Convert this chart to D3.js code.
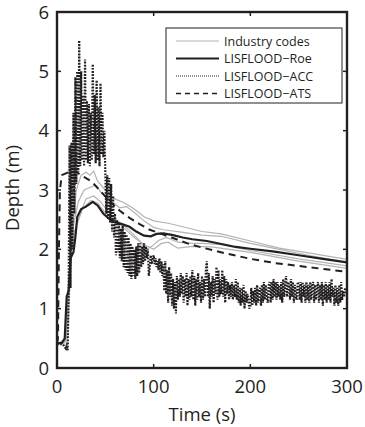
<!DOCTYPE html>
<html><head><meta charset="utf-8">
<script src="https://cdn.jsdelivr.net/npm/d3@7"></script>
<style>body{margin:0;background:#fff}svg{display:block}text{font-family:"Open Sans",sans-serif;fill:#231f20}</style>
</head><body><svg id="c" width="365" height="427"></svg>
<script>
// Industry codes (gray) [t, depth]
const industry1 = [[0,0.4],[8,0.42],[12,1.3],[16,2.3],[20,3.0],[25,3.25],[30,3.3],[34,3.25],[38,3.32],[42,3.15],[50,3.0],[60,2.85],[70,2.78],[80,2.68],[90,2.55],[100,2.48],[115,2.44],[130,2.38],[150,2.3],[170,2.26],[200,2.14],[230,2.02],[260,1.94],[300,1.83]];
const industry2 = [[0,0.4],[9,0.45],[13,1.6],[17,2.4],[22,2.8],[28,3.0],[35,3.05],[40,3.08],[46,2.95],[55,2.82],[65,2.7],[72,2.72],[80,2.62],[90,2.48],[100,2.37],[110,2.33],[125,2.3],[150,2.24],[170,2.22],[200,2.1],[230,2.0],[260,1.9],[300,1.78]];
const industry3 = [[0,0.4],[10,0.5],[14,1.9],[18,2.3],[24,2.6],[30,2.85],[38,2.9],[45,2.8],[55,2.6],[65,2.45],[75,2.32],[85,2.15],[93,2.0],[98,2.05],[105,2.15],[113,2.2],[125,2.12],[140,2.1],[150,2.1],[170,2.08],[200,1.98],[250,1.84],[300,1.72]];
const industry4 = [[0,0.4],[11,0.5],[15,2.0],[20,2.4],[27,2.7],[35,2.82],[42,2.78],[50,2.62],[60,2.5],[70,2.35],[80,2.2],[90,2.08],[100,2.0],[108,2.1],[115,2.12],[125,2.02],[140,2.05],[160,2.04],[200,1.95],[250,1.8],[300,1.68]];
// LISFLOOD-Roe
const roe = [[0,0.42],[5,0.42],[8,0.5],[10,1.2],[12,1.3],[14,1.85],[17,1.95],[19,2.2],[21,2.55],[25,2.68],[30,2.72],[37,2.8],[42,2.74],[48,2.6],[55,2.5],[62,2.45],[68,2.42],[75,2.38],[82,2.3],[90,2.23],[97,2.22],[103,2.26],[110,2.27],[120,2.24],[130,2.2],[140,2.17],[155,2.14],[170,2.09],[185,2.04],[200,2.01],[225,1.96],[250,1.9],[275,1.84],[300,1.78]];
// LISFLOOD-ATS
const ats = [[0,0.42],[1,0.5],[2,2.0],[3,3.0],[5,3.25],[12,3.3],[20,3.3],[30,3.2],[36,3.14],[44,3.0],[55,2.8],[65,2.65],[75,2.53],[85,2.43],[96,2.33],[108,2.26],[120,2.19],[135,2.1],[150,2.03],[175,1.93],[200,1.84],[225,1.77],[250,1.72],[275,1.67],[300,1.62]];
// LISFLOOD-ACC, sampled every 1 s from t = 0
const accStart = 0, accStep = 1;
const acc = [
0.40,0.40,0.40,0.40,0.40,0.40,0.40,0.38,0.35,0.33,
0.38,0.30,1.25,3.75,1.35,3.80,2.00,4.30,2.60,4.90,
3.10,5.00,3.30,5.52,3.40,5.00,3.50,4.60,3.40,5.20,
3.50,4.50,3.45,4.45,3.40,4.30,3.50,5.12,3.60,4.60,
3.45,4.85,3.50,4.40,3.40,4.80,3.60,4.30,3.55,4.00,
3.30,2.60,3.25,2.50,3.20,2.45,3.10,2.30,2.90,2.20,
2.60,1.90,2.50,1.95,2.45,1.85,2.35,1.80,2.40,1.70,
2.30,1.65,2.25,1.60,2.20,1.55,2.10,1.50,2.05,1.55,
2.00,1.50,2.05,1.55,2.10,1.60,2.10,1.70,2.05,1.75,
2.10,1.80,2.05,1.85,2.00,1.55,1.70,1.90,1.75,1.85,
1.90,1.75,1.85,1.70,1.80,1.65,1.85,1.60,1.80,1.55,
1.75,1.30,1.80,1.25,1.65,1.10,1.70,1.20,1.60,1.05,
1.50,1.00,1.45,0.92,1.55,1.15,1.50,1.20,1.60,1.25,
1.55,1.10,1.50,1.20,1.60,1.05,1.50,1.15,1.55,1.20,
1.65,1.15,1.55,1.05,1.50,1.15,1.60,1.20,1.45,1.10,
1.55,1.15,1.50,1.20,1.65,1.80,1.20,1.60,1.00,1.45,
1.20,1.55,1.10,1.50,1.25,1.70,1.15,1.65,1.20,1.50,
1.25,1.65,1.20,1.55,1.10,1.50,1.25,1.45,1.15,1.40,
1.20,1.45,1.15,1.40,1.20,1.50,1.15,1.45,1.10,1.35,
1.05,1.35,1.10,1.40,1.00,1.30,1.10,1.25,1.15,1.00,
1.05,1.35,1.05,1.30,1.10,1.35,1.05,1.40,1.10,1.30,
1.35,1.05,1.40,1.10,1.45,1.15,1.40,1.20,1.10,1.40,
1.45,1.10,1.45,1.15,1.50,1.20,1.45,1.15,1.45,1.20,
1.40,1.15,1.45,1.10,1.50,1.20,1.40,1.55,1.20,1.45,
1.40,1.15,1.50,1.20,1.45,1.10,1.40,1.20,1.15,1.45,
1.40,1.15,1.45,1.10,1.45,1.20,1.40,1.10,1.45,1.15,
1.40,1.10,1.45,1.15,1.40,1.45,1.10,1.40,1.15,1.35,
1.45,1.10,1.40,1.15,1.45,1.05,1.40,1.15,1.45,1.10,
1.40,1.15,1.45,1.10,1.50,1.20,1.35,1.05,1.40,1.10,
1.35,1.05,1.40,1.10,1.45,1.15,1.30,1.20,1.35,1.25,
1.30];
const xTicks = [0,100,200,300];
const yTicks = [0,1,2,3,4,5,6];
const legendLabels = ["Industry codes","LISFLOOD\u2212Roe","LISFLOOD\u2212ACC","LISFLOOD\u2212ATS"];

const svg = d3.select("#c");
const L=57, R=347, T=12, B=368;
const x = d3.scaleLinear().domain([0,300]).range([L,R]);
const y = d3.scaleLinear().domain([0,6]).range([B,T]);
const line = d3.line().x(d=>x(d[0])).y(d=>y(d[1]));

svg.append("clipPath").attr("id","pc").append("rect").attr("x",L).attr("y",T).attr("width",R-L).attr("height",B-T);
const g = svg.append("g").attr("clip-path","url(#pc)");

[industry1,industry2,industry3,industry4].forEach(s=>{
  g.append("path").attr("d",line(s)).attr("fill","none").attr("stroke","#b3b3b3").attr("stroke-width",1.2);
});
const accPts = acc.map((v,i)=>[accStart+i*accStep, v]);
g.append("path").attr("d",line(accPts)).attr("fill","none").attr("stroke","#231f20").attr("stroke-width",2.2).attr("stroke-dasharray","1.7,1.4");
g.append("path").attr("d",line(ats)).attr("fill","none").attr("stroke","#231f20").attr("stroke-width",2).attr("stroke-dasharray","7,5");
g.append("path").attr("d",line(roe)).attr("fill","none").attr("stroke","#231f20").attr("stroke-width",2.2);

// axes with inward ticks on all sides
const ax = svg.append("g").attr("stroke","#231f20").attr("stroke-width",1.5);
xTicks.forEach(t=>{
  ax.append("line").attr("x1",x(t)).attr("x2",x(t)).attr("y1",B).attr("y2",B-4);
  ax.append("line").attr("x1",x(t)).attr("x2",x(t)).attr("y1",T).attr("y2",T+4);
});
yTicks.forEach(t=>{
  ax.append("line").attr("x1",L).attr("x2",L+4).attr("y1",y(t)).attr("y2",y(t));
  ax.append("line").attr("x1",R).attr("x2",R-4).attr("y1",y(t)).attr("y2",y(t));
});
svg.append("rect").attr("x",L).attr("y",T).attr("width",R-L).attr("height",B-T).attr("fill","none").attr("stroke","#231f20").attr("stroke-width",2.4);

svg.selectAll(".xt").data(xTicks).enter().append("text").attr("x",d=>x(d)).attr("y",393).attr("text-anchor","middle").attr("font-size",18.5).text(d=>d);
svg.selectAll(".yt").data(yTicks).enter().append("text").attr("x",49).attr("y",d=>y(d)+6.5).attr("text-anchor","end").attr("font-size",18.5).text(d=>d);
svg.append("text").attr("x",(L+R)/2).attr("y",421).attr("text-anchor","middle").attr("font-size",18.5).text("Time (s)");
svg.append("text").attr("transform","translate(19,188) rotate(-90)").attr("text-anchor","middle").attr("font-size",18.5).text("Depth (m)");

// legend
const lg = svg.append("g");
lg.append("rect").attr("x",166).attr("y",28).attr("width",176).attr("height",75).attr("fill","#fff").attr("stroke","#231f20").attr("stroke-width",1);
const ly = [41,58.5,76,93.5];
const styles = [
  {c:"#b3b3b3",w:1.2,d:null},
  {c:"#231f20",w:2,d:null},
  {c:"#231f20",w:1,d:"1,1"},
  {c:"#231f20",w:1.5,d:"5,4"}
];
legendLabels.forEach((lab,i)=>{
  const s=styles[i];
  const ln=lg.append("line").attr("x1",176).attr("x2",219).attr("y1",ly[i]).attr("y2",ly[i]).attr("stroke",s.c).attr("stroke-width",s.w);
  if(s.d) ln.attr("stroke-dasharray",s.d);
  lg.append("text").attr("x",224).attr("y",ly[i]+4.5).attr("font-size",12.5).text(lab);
});
</script></body></html>
